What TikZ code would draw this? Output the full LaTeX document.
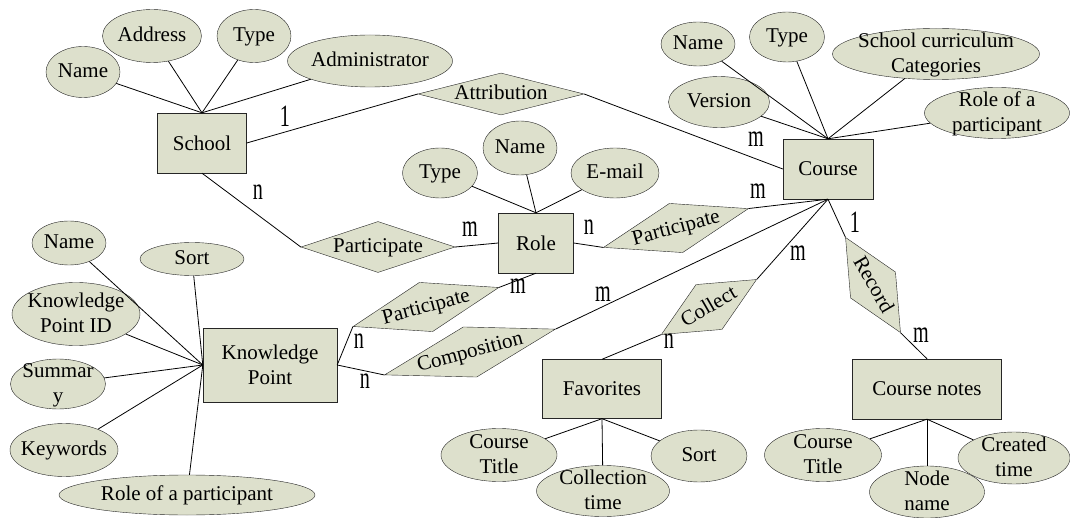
\documentclass[tikz,border=0pt]{standalone}
\usepackage{fontspec}
\setmainfont{Liberation Serif}
\usetikzlibrary{shapes.geometric}
\definecolor{ERFill}{HTML}{DDE0CC}
\newcommand{\erfont}{\fontsize{21}{25}\selectfont}
\newcommand{\cardfont}{\fontsize{31}{31}\selectfont}
% text that does not widen its shape
\newcommand{\ertext}[1]{\makebox[0pt]{\smash{\raisebox{-6pt}{\begin{tabular}{@{}c@{}}#1\end{tabular}}}}}

\begin{document}
\begin{tikzpicture}[x=1pt, y=-1pt,
        entity/.style={rectangle, draw=black!85, fill=ERFill, inner sep=0pt, align=center, font=\erfont},
        attr/.style={ellipse, draw=black!85, fill=ERFill, inner sep=0pt, font=\erfont},
        rel/.style={diamond, draw=black!85, fill=ERFill, inner sep=0pt, font=\erfont},
        card/.style={font=\cardfont, xscale=0.65, inner sep=0pt},
        link/.style={draw=black, line width=0.8pt}
    ]
    \useasboundingbox (0,0) rectangle (1070,518);

    % Entities
    \node[entity, minimum width=89, minimum height=60] (school) at (202,143) {School};
    \node[entity, minimum width=90, minimum height=60] (course) at (828,169) {Course};
    \node[entity, minimum width=75, minimum height=60] (role) at (536,243) {Role};
    \node[entity, minimum width=134, minimum height=74] (kp) at (270,365) {Knowledge\\Point};
    \node[entity, minimum width=119, minimum height=59] (fav) at (602,389) {Favorites};
    \node[entity, minimum width=149, minimum height=60] (notes) at (927,389) {Course notes};

    % School attributes
    \node[attr, minimum width=74, minimum height=51] (sName) at (83,72) {\ertext{Name}};
    \node[attr, minimum width=99, minimum height=53] (sAddr) at (152,36) {\ertext{Address}};
    \node[attr, minimum width=74, minimum height=53] (sType) at (254,36) {\ertext{Type}};
    \node[attr, minimum width=165, minimum height=52] (sAdmin) at (370,61) {\ertext{Administrator}};

    % Course attributes
    \node[attr, minimum width=74, minimum height=44] (cName) at (698,44) {\ertext{Name}};
    \node[attr, minimum width=75, minimum height=50] (cType) at (787,37) {\ertext{Type}};
    \node[attr, minimum width=207, minimum height=51] (cCat) at (936,54) {\ertext{School curriculum\\Categories}};
    \node[attr, minimum width=101, minimum height=51] (cVer) at (719,102) {\ertext{Version}};
    \node[attr, minimum width=145, minimum height=51] (cRole) at (997,113) {\ertext{Role of a\\participant}};

    % Role attributes
    \node[attr, minimum width=75, minimum height=50] (rType) at (440,173) {\ertext{Type}};
    \node[attr, minimum width=74, minimum height=54] (rName) at (520,148) {\ertext{Name}};
    \node[attr, minimum width=88, minimum height=50] (rMail) at (615,173) {\ertext{E-mail}};

    % Knowledge point attributes
    \node[attr, minimum width=74, minimum height=44] (kName) at (69,243) {\ertext{Name}};
    \node[attr, minimum width=104, minimum height=33] (kSort) at (192,259) {\ertext{Sort}};
    \node[attr, minimum width=128, minimum height=63] (kId) at (76,314) {\ertext{Knowledge\\Point ID}};
    \node[attr, minimum width=95, minimum height=50] (kSum) at (58,384) {\ertext{Summar\\y}};
    \node[attr, minimum width=108, minimum height=53] (kKey) at (64,450) {\ertext{Keywords}};
    \node[attr, minimum width=256, minimum height=40] (kRole) at (187,495) {\ertext{Role of a participant}};

    % Favorites attributes
    \node[attr, minimum width=116, minimum height=53] (fTitle) at (499,455) {\ertext{Course\\Title}};
    \node[attr, minimum width=133, minimum height=51] (fTime) at (603,491) {\ertext{Collection\\time}};
    \node[attr, minimum width=96, minimum height=52] (fSort) at (699,456) {\ertext{Sort}};

    % Course notes attributes
    \node[attr, minimum width=117, minimum height=53] (nTitle) at (823,455) {\ertext{Course\\Title}};
    \node[attr, minimum width=115, minimum height=52] (nName) at (927,492) {\ertext{Node\\name}};
    \node[attr, minimum width=112, minimum height=52] (nTime) at (1014,458) {\ertext{Created\\time}};

    % Relationships
    \node[rel, minimum width=166, minimum height=42] (attrib) at (501,94) {\ertext{Attribution}};
    \node[rel, minimum width=154, minimum height=51] (partSR) at (378,247) {\ertext{Participate}};
    \node[rel, minimum width=150, minimum height=51, rotate=15] (partRC) at (676,228) {\ertext{Participate}};
    \node[rel, minimum width=151, minimum height=51, rotate=15] (partKR) at (426,307) {\ertext{Participate}};
    \node[rel, minimum width=177, minimum height=52, rotate=15] (comp) at (470,352) {\ertext{Composition}};
    \node[rel, minimum width=110, minimum height=52, rotate=30] (collect) at (709,307) {\ertext{Collect}};
    \node[rel, minimum width=110, minimum height=52, rotate=-60] (record) at (873,285) {\ertext{Record}};

    % Attribute links
    \draw[link] (school.north) -- (sName);
    \draw[link] (school.north) -- (sAddr);
    \draw[link] (school.north) -- (sType);
    \draw[link] (school.north) -- (sAdmin);
    \draw[link] (course.north) -- (cName);
    \draw[link] (course.north) -- (cType);
    \draw[link] (course.north) -- (cCat);
    \draw[link] (course.north) -- (cVer);
    \draw[link] (course.north) -- (cRole);
    \draw[link] (role.north) -- (rType);
    \draw[link] (role.north) -- (rName);
    \draw[link] (role.north) -- (rMail);
    \draw[link] (kp.west) -- (kName);
    \draw[link] (kp.west) -- (kSort);
    \draw[link] (kp.west) -- (kId);
    \draw[link] (kp.west) -- (kSum);
    \draw[link] (kp.west) -- (kKey);
    \draw[link] (kp.west) -- (kRole);
    \draw[link] (fav.south) -- (fTitle);
    \draw[link] (fav.south) -- (fTime);
    \draw[link] (fav.south) -- (fSort);
    \draw[link] (notes.south) -- (nTitle);
    \draw[link] (notes.south) -- (nName);
    \draw[link] (notes.south) -- (nTime);

    % Relationship links
    \draw[link] (school.east) -- (attrib.west);
    \draw[link] (attrib.east) -- (course.west);
    \draw[link] (school.south) -- (partSR.west);
    \draw[link] (partSR.east) -- (role.west);
    \draw[link] (role.east) -- (partRC.west);
    \draw[link] (partRC.east) -- (course.south);
    \draw[link] (kp.east) -- (partKR.west);
    \draw[link] (partKR.east) -- (role.south);
    \draw[link] (kp.east) -- (comp.west);
    \draw[link] (comp.east) -- (course.south);
    \draw[link] (fav.north) -- (collect.west);
    \draw[link] (collect.east) -- (course.south);
    \draw[link] (course.south) -- (record.west);
    \draw[link] (record.east) -- (notes.north);

    % Cardinalities
    \node[card] (c1) at (285,116) {1};
    \node[card] (c2) at (756,139) {m};
    \node[card] (c3) at (258,192) {n};
    \node[card] (c4) at (470,229) {m};
    \node[card] (c5) at (589,227) {n};
    \node[card] (c6) at (758,191) {m};
    \node[card] (c7) at (359,341) {n};
    \node[card] (c8) at (518,286) {m};
    \node[card] (c9) at (365,381) {n};
    \node[card] (c10) at (603,294) {m};
    \node[card] (c11) at (669,341) {n};
    \node[card] (c12) at (798,253) {m};
    \node[card] (c13) at (855,222) {1};
    \node[card] (c14) at (921,335) {m};
\end{tikzpicture}
\end{document}
